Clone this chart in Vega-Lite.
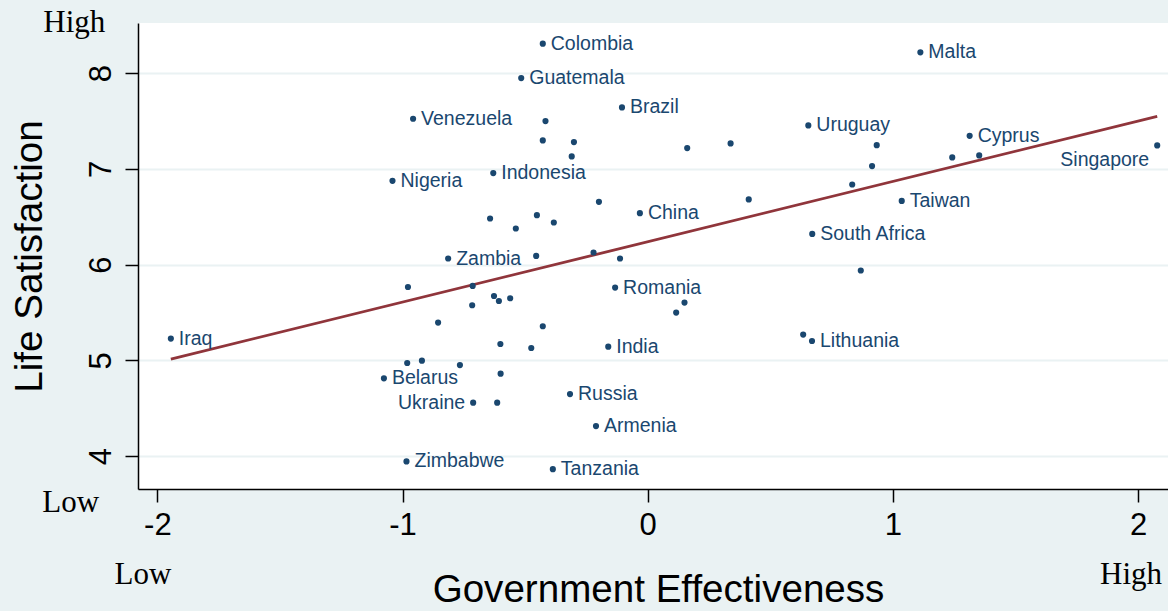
{
  "$schema": "https://vega.github.io/schema/vega-lite/v6.json",
  "width": 1030,
  "height": 466,
  "autosize": {"type": "none"},
  "padding": {"left": 138, "top": 23, "right": 0, "bottom": 122},
  "background": "#EAF2F3",
  "datasets": {
    "countries": [
      {"country": "Iraq", "ge": -1.945, "ls": 5.227},
      {"country": "Colombia", "ge": -0.428, "ls": 8.306},
      {"country": "Guatemala", "ge": -0.516, "ls": 7.947},
      {"country": "Brazil", "ge": -0.105, "ls": 7.641},
      {"country": "Venezuela", "ge": -0.957, "ls": 7.522},
      {"country": "", "ge": -0.417, "ls": 7.498},
      {"country": "", "ge": -0.428, "ls": 7.296},
      {"country": "", "ge": -0.301, "ls": 7.279},
      {"country": "", "ge": -0.310, "ls": 7.129},
      {"country": "", "ge": 0.161, "ls": 7.216},
      {"country": "", "ge": 0.338, "ls": 7.265},
      {"country": "Nigeria", "ge": -1.041, "ls": 6.874},
      {"country": "Indonesia", "ge": -0.630, "ls": 6.955},
      {"country": "", "ge": -0.199, "ls": 6.655},
      {"country": "China", "ge": -0.032, "ls": 6.537},
      {"country": "", "ge": 0.412, "ls": 6.680},
      {"country": "", "ge": -0.643, "ls": 6.481},
      {"country": "", "ge": -0.538, "ls": 6.377},
      {"country": "", "ge": -0.452, "ls": 6.516},
      {"country": "", "ge": -0.383, "ls": 6.439},
      {"country": "Zambia", "ge": -0.814, "ls": 6.063},
      {"country": "", "ge": -0.455, "ls": 6.090},
      {"country": "", "ge": -0.221, "ls": 6.126},
      {"country": "", "ge": -0.113, "ls": 6.063},
      {"country": "", "ge": -0.978, "ls": 5.766},
      {"country": "", "ge": -0.714, "ls": 5.777},
      {"country": "", "ge": -0.627, "ls": 5.672},
      {"country": "", "ge": -0.607, "ls": 5.620},
      {"country": "", "ge": -0.561, "ls": 5.648},
      {"country": "Romania", "ge": -0.133, "ls": 5.760},
      {"country": "", "ge": 0.150, "ls": 5.603},
      {"country": "", "ge": 0.116, "ls": 5.499},
      {"country": "", "ge": -0.855, "ls": 5.394},
      {"country": "", "ge": -0.716, "ls": 5.575},
      {"country": "", "ge": -0.428, "ls": 5.356},
      {"country": "", "ge": -0.601, "ls": 5.171},
      {"country": "", "ge": -0.475, "ls": 5.129},
      {"country": "India", "ge": -0.161, "ls": 5.143},
      {"country": "", "ge": -0.981, "ls": 4.972},
      {"country": "", "ge": -0.921, "ls": 4.997},
      {"country": "", "ge": -0.766, "ls": 4.951},
      {"country": "Belarus", "ge": -1.076, "ls": 4.812},
      {"country": "", "ge": -0.600, "ls": 4.861},
      {"country": "Ukraine", "ge": -0.712, "ls": 4.558},
      {"country": "", "ge": -0.614, "ls": 4.558},
      {"country": "Russia", "ge": -0.317, "ls": 4.648},
      {"country": "Armenia", "ge": -0.211, "ls": 4.314},
      {"country": "Zimbabwe", "ge": -0.984, "ls": 3.945},
      {"country": "Tanzania", "ge": -0.387, "ls": 3.864},
      {"country": "Malta", "ge": 1.112, "ls": 8.216},
      {"country": "Uruguay", "ge": 0.655, "ls": 7.453},
      {"country": "", "ge": 0.934, "ls": 7.247},
      {"country": "", "ge": 0.915, "ls": 7.028},
      {"country": "", "ge": 0.834, "ls": 6.836},
      {"country": "Cyprus", "ge": 1.313, "ls": 7.344},
      {"country": "", "ge": 1.242, "ls": 7.119},
      {"country": "", "ge": 1.352, "ls": 7.140},
      {"country": "Singapore", "ge": 2.078, "ls": 7.244},
      {"country": "Taiwan", "ge": 1.036, "ls": 6.665},
      {"country": "South Africa", "ge": 0.671, "ls": 6.320},
      {"country": "", "ge": 0.869, "ls": 5.938},
      {"country": "", "ge": 0.634, "ls": 5.269},
      {"country": "Lithuania", "ge": 0.670, "ls": 5.202}
    ],
    "annotations": [
      {"label": "High", "ge": -2.3386, "ls": 8.4285},
      {"label": "Low", "ge": -2.3537, "ls": 3.422},
      {"label": "Low", "ge": -2.0588, "ls": 2.670},
      {"label": "High", "ge": 1.9714, "ls": 2.670}
    ]
  },
  "data": {"name": "countries"},
  "encoding": {
    "x": {
      "field": "ge", "type": "quantitative",
      "scale": {"domain": [-2.079, 2.122], "nice": false, "zero": false},
      "axis": {
        "title": "Government Effectiveness",
        "values": [-2, -1, 0, 1, 2],
        "labelExpr": "'' + datum.value",
        "grid": false,
        "titlePadding": 31,
        "titleX": 520
      }
    },
    "y": {
      "field": "ls", "type": "quantitative",
      "scale": {"domain": [3.657, 8.522], "nice": false, "zero": false},
      "axis": {
        "title": "Life Satisfaction",
        "values": [4, 5, 6, 7, 8],
        "labelExpr": "'' + datum.value",
        "grid": true,
        "labelAngle": -90,
        "titlePadding": 36
      }
    }
  },
  "layer": [
    {
      "transform": [{"regression": "ls", "on": "ge"}],
      "mark": {"type": "line", "color": "#90353B", "strokeWidth": 2.8}
    },
    {
      "mark": {"type": "circle", "color": "#1A476F", "size": 38, "opacity": 1}
    },
    {
      "transform": [{"filter": "datum.country != '' && datum.country != 'Ukraine' && datum.country != 'Singapore'"}],
      "mark": {"type": "text", "align": "left", "baseline": "middle", "dx": 8, "font": "Liberation Sans", "fontSize": 19.5, "color": "#1A476F"},
      "encoding": {"text": {"field": "country"}}
    },
    {
      "transform": [{"filter": "datum.country == 'Ukraine'"}],
      "mark": {"type": "text", "align": "right", "baseline": "middle", "dx": -8, "font": "Liberation Sans", "fontSize": 19.5, "color": "#1A476F"},
      "encoding": {"text": {"field": "country"}}
    },
    {
      "transform": [{"filter": "datum.country == 'Singapore'"}],
      "mark": {"type": "text", "align": "right", "baseline": "middle", "dx": -8, "dy": 15, "font": "Liberation Sans", "fontSize": 19.5, "color": "#1A476F"},
      "encoding": {"text": {"field": "country"}}
    },
    {
      "data": {"name": "annotations"},
      "mark": {"type": "text", "align": "center", "baseline": "alphabetic", "font": "Liberation Serif", "fontSize": 31, "color": "#000000"},
      "encoding": {"text": {"field": "label"}}
    }
  ],
  "config": {
    "view": {"fill": "#FFFFFF", "stroke": null},
    "axis": {
      "labelFont": "Liberation Sans",
      "labelFontSize": 31,
      "labelColor": "#000000",
      "titleFont": "Liberation Sans",
      "titleFontSize": 38.6,
      "titleFontWeight": "normal",
      "titleColor": "#000000",
      "domainColor": "#000000",
      "domainWidth": 1.5,
      "tickColor": "#000000",
      "tickWidth": 1.5,
      "tickSize": 13,
      "gridColor": "#EAF2F3",
      "gridWidth": 2,
      "gridOpacity": 1,
      "labelPadding": 8
    }
  }
}
